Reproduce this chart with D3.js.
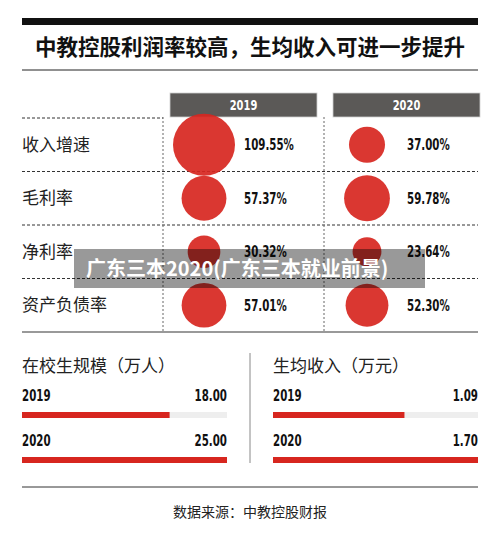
<!DOCTYPE html>
<html><head><meta charset="utf-8">
<script src="https://cdn.jsdelivr.net/npm/d3@7"></script>
<style>
body{margin:0;background:#fff;}
svg{display:block;}
.cjk{font-family:"Noto Sans CJK SC","Noto Sans",sans-serif;}
.num{font-family:"DejaVu Sans Condensed","DejaVu Sans",sans-serif;font-weight:bold;}
</style></head>
<body>
<script>
const title = "中教控股利润率较高，生均收入可进一步提升";
const years = ["2019", "2020"];
const metrics = ["收入增速", "毛利率", "净利率", "资产负债率"];
const values2019 = [109.55, 57.37, 30.32, 57.01];
const values2020 = [37.00, 59.78, 23.64, 52.30];
const barTitles = ["在校生规模（万人）", "生均收入（万元）"];
const students = [18.00, 25.00];
const revenuePerStudent = [1.09, 1.70];
const source = "数据来源：中教控股财报";
const watermark = "广东三本2020(广东三本就业前景)";

const W = 500, H = 538;
const red = "#d7261f";
const svg = d3.select("body").append("svg").attr("width", W).attr("height", H);

function numText(sel, x, y, txt, opts = {}) {
  return sel.append("text").attr("class", "num")
    .attr("transform", `translate(${x},${y}) scale(${opts.sx || 0.76},1)`)
    .attr("text-anchor", opts.anchor || "start")
    .attr("font-size", opts.size || 15).attr("fill", opts.fill || "#111").text(txt);
}

// header
svg.append("rect").attr("x", 22).attr("y", 18).attr("width", 456).attr("height", 7).attr("fill", "#111");
svg.append("text").attr("class", "cjk").attr("x", 250).attr("y", 55).attr("text-anchor", "middle")
  .attr("font-size", 21.5).attr("font-weight", "bold").attr("fill", "#111").text(title);
svg.append("line").attr("x1", 22).attr("x2", 478).attr("y1", 70).attr("y2", 70).attr("stroke", "#222").attr("stroke-width", 1);

// table scales
const y = d3.scaleBand().domain(metrics).range([118, 332]);
const x = d3.scaleBand().domain(years).range([163, 489]);
const r = d3.scaleSqrt().domain([0, d3.max(values2019.concat(values2020))]).range([0, 31]);
const series = {"2019": values2019, "2020": values2020};

// header boxes
years.forEach(yr => {
  svg.append("rect").attr("x", x(yr) + 7).attr("y", 93).attr("width", 147).attr("height", 24)
    .attr("fill", "#5b5957").attr("stroke", "#cfcfcf").attr("stroke-width", 0.8);
  numText(svg, x(yr) + 80.5, 110, yr, {anchor: "middle", size: 14.5, fill: "#fff"});
});

// grid lines
svg.append("line").attr("x1", 22).attr("x2", x("2019")).attr("y1", y(metrics[0])).attr("y2", y(metrics[0]))
  .attr("stroke", "#333").attr("stroke-dasharray", "3,2");
metrics.slice(1).forEach(m => {
  svg.append("line").attr("x1", 22).attr("x2", 478).attr("y1", y(m)).attr("y2", y(m))
    .attr("stroke", "#333").attr("stroke-dasharray", "3,2");
});
[x("2019"), x("2020") - 2].forEach(xx => {
  svg.append("line").attr("x1", xx).attr("x2", xx).attr("y1", 117).attr("y2", 332)
    .attr("stroke", "#666").attr("stroke-dasharray", "2,2");
});
svg.append("line").attr("x1", 22).attr("x2", 478).attr("y1", 332).attr("y2", 332).attr("stroke", "#999").attr("stroke-width", 2);

// row labels
svg.selectAll(".rowlab").data(metrics).enter().append("text").attr("class", "cjk")
  .attr("x", 22).attr("y", d => y(d) + y.bandwidth() / 2 + 6).attr("font-size", 17).attr("fill", "#222").text(d => d);

// circles & values
years.forEach(yr => {
  const g = svg.append("g");
  g.selectAll("circle").data(series[yr]).enter().append("circle")
    .attr("cx", x(yr) + 41).attr("cy", (d, i) => y(metrics[i]) + y.bandwidth() / 2)
    .attr("r", d => r(d)).attr("fill", red).attr("fill-opacity", 0.92);
  series[yr].forEach((d, i) => {
    numText(g, x(yr) + 81, y(metrics[i]) + y.bandwidth() / 2 + 5.5, d.toFixed(2) + "%");
  });
});

// bottom bars
const panels = [
  {title: barTitles[0], vals: students, x0: 22, x1: 227},
  {title: barTitles[1], vals: revenuePerStudent, x0: 273, x1: 478}
];
svg.append("line").attr("x1", 250).attr("x2", 250).attr("y1", 353).attr("y2", 463).attr("stroke", "#888").attr("stroke-width", 1);
panels.forEach(p => {
  const bx = d3.scaleLinear().domain([0, d3.max(p.vals)]).range([p.x0, p.x1]);
  svg.append("text").attr("class", "cjk").attr("x", p.x0).attr("y", 372).attr("font-size", 17).attr("fill", "#222").text(p.title);
  const by = d3.scaleBand().domain(years).range([380, 470]);
  years.forEach((yr, i) => {
    const top = by(yr);
    numText(svg, p.x0, top + 21, yr);
    numText(svg, p.x1, top + 21, p.vals[i].toFixed(2), {anchor: "end"});
    svg.append("rect").attr("x", p.x0).attr("y", top + 32).attr("width", p.x1 - p.x0).attr("height", 6).attr("fill", "#eeeeee");
    svg.append("rect").attr("x", p.x0).attr("y", top + 32).attr("width", bx(p.vals[i]) - p.x0).attr("height", 6).attr("fill", red);
  });
});

svg.append("line").attr("x1", 22).attr("x2", 478).attr("y1", 487).attr("y2", 487).attr("stroke", "#333").attr("stroke-width", 1);
svg.append("text").attr("class", "cjk").attr("x", 250).attr("y", 517).attr("text-anchor", "middle")
  .attr("font-size", 14).attr("fill", "#222").text(source);

// watermark overlay
svg.append("rect").attr("x", 74).attr("y", 249).attr("width", 351).attr("height", 39).attr("fill", "#000").attr("fill-opacity", 0.4);
svg.append("text").attr("class", "cjk").attr("x", 86).attr("y", 276).attr("font-size", 20).attr("font-weight", "bold")
  .attr("fill", "#fff").text(watermark);
</script>
</body></html>
